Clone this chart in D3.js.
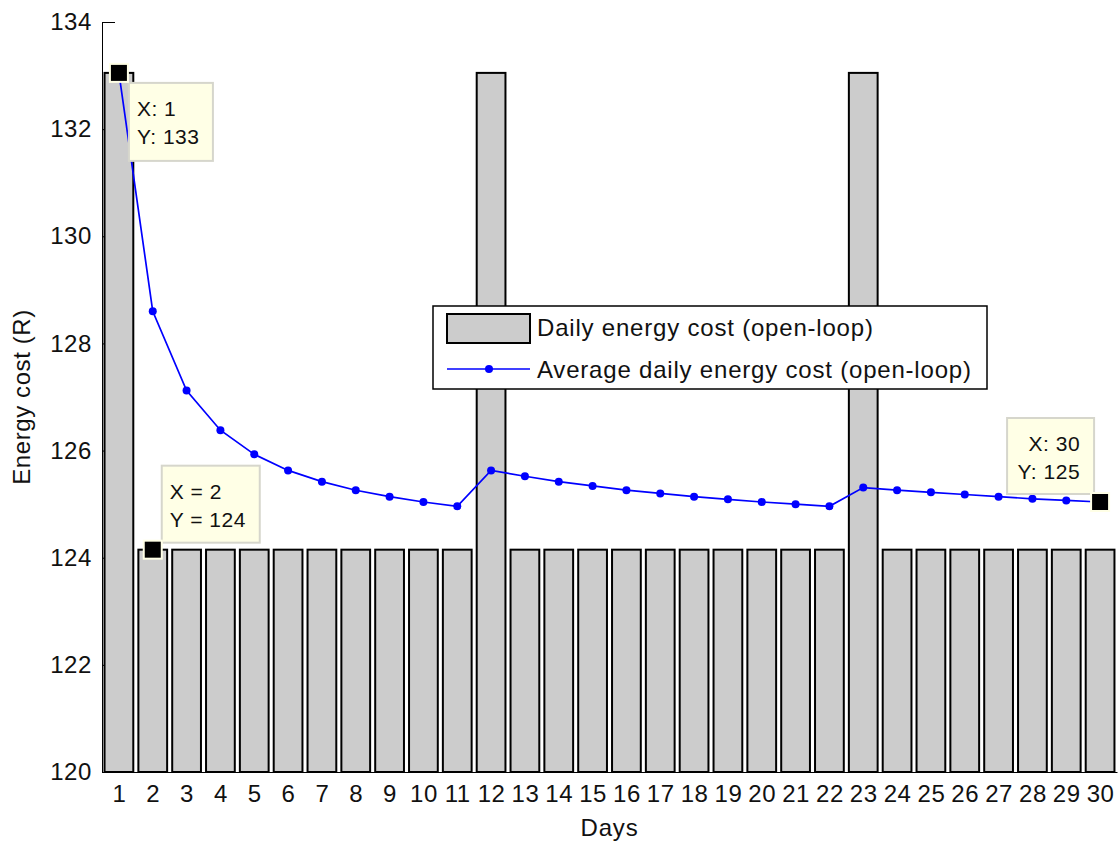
<!DOCTYPE html>
<html>
<head>
<meta charset="utf-8">
<script src="https://cdn.jsdelivr.net/npm/d3@7"></script>
<style>
  body { margin: 0; background: #fff; }
  text { font-family: "Liberation Sans", Arial, sans-serif; fill: #000; }
</style>
</head>
<body>
<div id="chart"></div>
<script>
// data
var days = d3.range(1, 31);
var dailyCost = [133.05, 124.15, 124.15, 124.15, 124.15, 124.15, 124.15, 124.15, 124.15, 124.15,
                 124.15, 133.05, 124.15, 124.15, 124.15, 124.15, 124.15, 124.15, 124.15, 124.15,
                 124.15, 124.15, 133.05, 124.15, 124.15, 124.15, 124.15, 124.15, 124.15, 124.15];
var avgCost = [133.05, 128.60, 127.12, 126.38, 125.93, 125.63, 125.42, 125.26, 125.14, 125.04,
               124.96, 125.63, 125.52, 125.42, 125.34, 125.26, 125.20, 125.14, 125.09, 125.04,
               125.00, 124.96, 125.31, 125.26, 125.22, 125.18, 125.14, 125.10, 125.07, 125.04];
var yTicks = [120, 122, 124, 126, 128, 130, 132, 134];
var seriesNames = ["Daily energy cost (open-loop)", "Average daily energy cost (open-loop)"];
var tips = [
    {x: 1, y: 133.05, lines: ["X: 1", "Y: 133"]},
    {x: 2, y: 124.15, lines: ["X = 2", "Y = 124"]},
    {x: 30, y: 125.04, lines: ["X: 30", "Y: 125"]}
];

var width = 1118, height = 843;
var margin = {top: 22, left: 102, right: 1, bottom: 71};

var svg = d3.select("#chart").append("svg")
    .attr("width", width)
    .attr("height", height);

svg.append("rect").attr("width", width).attr("height", height).attr("fill", "#fff");

var x = d3.scaleLinear().domain([0.5, 30.5]).range([margin.left, width - margin.right]);
var y = d3.scaleLinear().domain([120, 134]).range([height - margin.bottom, margin.top]);
var step = x(2) - x(1);
var barW = step * 0.85;

// axes (ticks point inward, mostly hidden by the bars)
var xAxis = svg.append("g")
    .attr("transform", "translate(0," + y(120) + ")")
    .call(d3.axisBottom(x).tickValues(days).tickSizeInner(-10).tickSizeOuter(0).tickPadding(13));
var yAxis = svg.append("g")
    .attr("transform", "translate(" + margin.left + ",0)")
    .call(d3.axisLeft(y).tickValues(yTicks).tickSizeInner(-13).tickSizeOuter(0).tickPadding(10));
[xAxis, yAxis].forEach(function (a) {
    a.selectAll("text").style("font-size", "24px").style("letter-spacing", "0.6px")
        .attr("font-family", null).style("fill", "#111");
    a.selectAll("line, path").attr("stroke", "#000");
});
yAxis.select(".domain").attr("d", "M0.5," + y(120) + "V" + y(134));

// bars
svg.selectAll(".bar")
    .data(dailyCost)
    .enter().append("rect")
    .attr("class", "bar")
    .attr("x", function (d, i) { return x(days[i]) - barW / 2; })
    .attr("y", function (d) { return y(d); })
    .attr("width", barW)
    .attr("height", function (d) { return y(120) - y(d); })
    .attr("fill", "#cccccc")
    .attr("stroke", "#000")
    .attr("stroke-width", 2);

// average line
var line = d3.line()
    .x(function (d, i) { return x(days[i]); })
    .y(function (d) { return y(d); });
svg.append("path")
    .datum(avgCost)
    .attr("d", line)
    .attr("fill", "none")
    .attr("stroke", "#0000ff")
    .attr("stroke-width", 1.7);
svg.selectAll(".dot")
    .data(avgCost)
    .enter().append("circle")
    .attr("class", "dot")
    .attr("cx", function (d, i) { return x(days[i]); })
    .attr("cy", function (d) { return y(d); })
    .attr("r", 4)
    .attr("fill", "#0000ff");

// axis labels
svg.append("text")
    .attr("x", (x(0.5) + x(30.5)) / 2)
    .attr("y", 836)
    .attr("text-anchor", "middle")
    .style("font-size", "24px").style("letter-spacing", "0.8px").style("fill", "#111")
    .text("Days");
svg.append("text")
    .attr("transform", "translate(30," + (y(127)) + ") rotate(-90)")
    .attr("text-anchor", "middle")
    .style("font-size", "24px").style("letter-spacing", "0.6px").style("fill", "#111")
    .text("Energy cost (R)");

// legend
var lg = svg.append("g").attr("transform", "translate(433,306)");
lg.append("rect")
    .attr("width", 554).attr("height", 83)
    .attr("fill", "#fff").attr("stroke", "#000").attr("stroke-width", 1.5);
lg.append("rect")
    .attr("x", 14).attr("y", 8).attr("width", 83).attr("height", 29)
    .attr("fill", "#cccccc").attr("stroke", "#000").attr("stroke-width", 2);
lg.append("line")
    .attr("x1", 14).attr("x2", 97).attr("y1", 63).attr("y2", 63)
    .attr("stroke", "#0000ff").attr("stroke-width", 1.7);
lg.append("circle").attr("cx", 56).attr("cy", 63).attr("r", 4).attr("fill", "#0000ff");
lg.selectAll(".lgtext")
    .data(seriesNames)
    .enter().append("text")
    .attr("x", 104)
    .attr("y", function (d, i) { return 22 + i * 42; })
    .attr("dy", "0.35em")
    .style("font-size", "24px").style("letter-spacing", "0.8px").style("fill", "#111")
    .text(function (d) { return d; });

// data tips
var boxes = [
    {dx: 10, dy: 10, w: 84, h: 78, align: "start"},
    {dx: 9, dy: -84, w: 98, h: 77, align: "start"},
    {dx: -93, dy: -84, w: 87, h: 76, align: "end"}
];
tips.forEach(function (t, i) {
    var cx = x(t.x), cy = y(t.y), b = boxes[i];
    var g = svg.append("g");
    g.append("rect")
        .attr("x", cx + b.dx).attr("y", cy + b.dy)
        .attr("width", b.w).attr("height", b.h)
        .attr("fill", "#ffffe6").attr("stroke", "#d6d6cc").attr("stroke-width", 2);
    g.append("rect")
        .attr("x", cx - 10).attr("y", cy - 10).attr("width", 20).attr("height", 20)
        .attr("fill", "#ffffe6");
    g.append("rect")
        .attr("x", cx - 8).attr("y", cy - 8).attr("width", 16).attr("height", 16)
        .attr("fill", "#000");
    g.selectAll("text")
        .data(t.lines)
        .enter().append("text")
        .attr("x", b.align === "end" ? cx + b.dx + b.w - 14 : cx + b.dx + 8)
        .attr("y", function (d, j) { return cy + b.dy + 33 + j * 28; })
        .attr("text-anchor", b.align)
        .style("font-size", "21px").style("letter-spacing", "0.5px").style("fill", "#111")
        .text(function (d) { return d; });
});
</script>
</body>
</html>
